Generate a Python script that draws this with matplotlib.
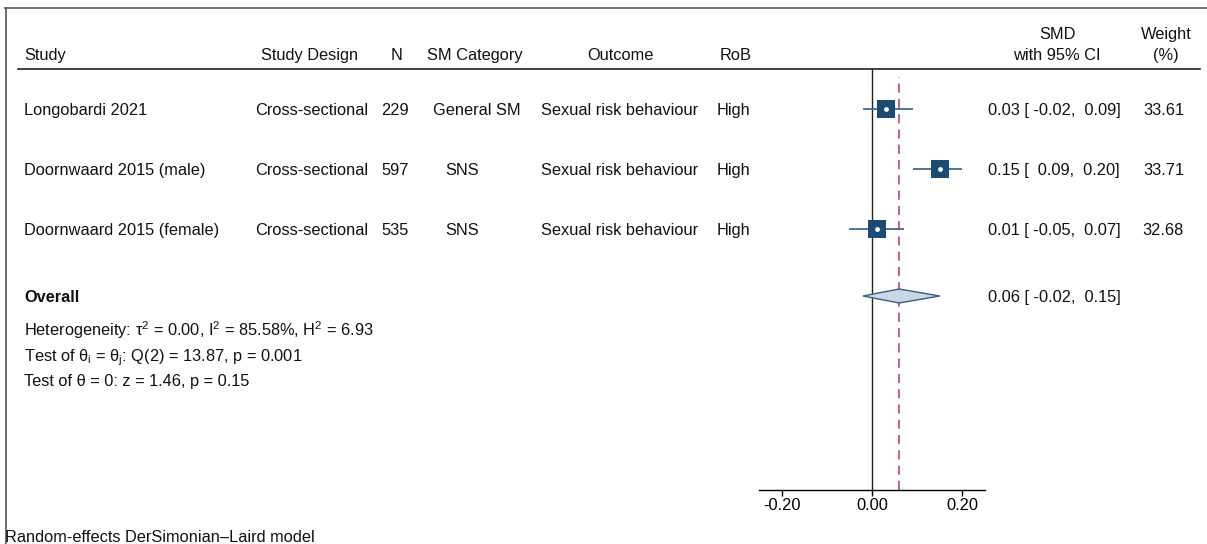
import matplotlib
matplotlib.use("Agg")
import matplotlib.pyplot as plt
from matplotlib.lines import Line2D
from matplotlib.patches import Polygon

plt.rcParams['font.family'] = ['Liberation Sans', 'DejaVu Sans']
plt.rcParams['mathtext.fontset'] = 'custom'
plt.rcParams['mathtext.rm'] = 'Liberation Sans'
plt.rcParams['mathtext.it'] = 'Liberation Sans'

# ---- study data ----
studies = ["Longobardi 2021", "Doornwaard 2015 (male)", "Doornwaard 2015 (female)"]
designs = ["Cross-sectional", "Cross-sectional", "Cross-sectional"]
sample_n = [229, 597, 535]
sm_category = ["General SM", "SNS", "SNS"]
outcomes = ["Sexual risk behaviour"] * 3
rob = ["High", "High", "High"]
smd = [0.03, 0.15, 0.01]
ci_low = [-0.02, 0.09, -0.05]
ci_high = [0.09, 0.20, 0.07]
weights = [33.61, 33.71, 32.68]

overall_smd = 0.06
overall_low = -0.02
overall_high = 0.15

het_text = r"Heterogeneity: τ$^\mathregular{2}$ = 0.00, I$^\mathregular{2}$ = 85.58%, H$^\mathregular{2}$ = 6.93"
q_text = r"Test of θ$_\mathregular{i}$ = θ$_\mathregular{j}$: Q(2) = 13.87, p = 0.001"
z_text = "Test of θ = 0: z = 1.46, p = 0.15"
footer = "Random-effects DerSimonian–Laird model"

x_ticks = [-0.20, 0.00, 0.20]

# ---- layout (pixel space) ----
W, H = 1207, 544
fig = plt.figure(figsize=(W / 100, H / 100), dpi=100)

def fx(x):
    return x / W

def fy(y):
    return 1 - y / H

FS = 11.8
row_y = [109, 169, 229]
overall_y = 296

ax_left, ax_right, ax_top, ax_bot = 759, 985, 69, 490
ax = fig.add_axes([fx(ax_left), fy(ax_bot), (ax_right - ax_left) / W, (ax_bot - ax_top) / H])
ax.set_xlim(-0.25, 0.25)
ax.set_ylim(ax_bot, ax_top)
for s in ["top", "right", "left"]:
    ax.spines[s].set_visible(False)
ax.spines["bottom"].set_linewidth(1.0)
ax.set_yticks([])
ax.set_xticks(x_ticks)
ax.set_xticklabels([f"{t:.2f}" for t in x_ticks], fontsize=FS)
ax.tick_params(axis="x", length=4, width=1.0, pad=2)
ax.patch.set_alpha(0)

# reference lines
ax.axvline(0, color="#222222", lw=1.0, zorder=1)
ax.axvline(overall_smd, color="#b03a5e", lw=1.1, ls=(0, (6, 4)), ymax=0.98, zorder=1)

navy = "#1b4a72"
ci_col = "#3f6b92"
for y, m, lo, hi, w in zip(row_y, smd, ci_low, ci_high, weights):
    ax.plot([lo, hi], [y, y], color=ci_col, lw=1.3, zorder=2, solid_capstyle="butt")
    ax.scatter([m], [y], marker="s", s=180 * w / 33.71, color=navy, zorder=3, linewidths=0)
    ax.scatter([m], [y], marker="o", s=12, color="white", zorder=4, linewidths=0)

dh = 7
diamond = Polygon([[overall_low, overall_y], [overall_smd, overall_y - dh],
                   [overall_high, overall_y], [overall_smd, overall_y + dh]],
                  closed=True, facecolor="#ccd7e5", edgecolor="#3a5f85", lw=1.0, zorder=3)
ax.add_patch(diamond)

# ---- frame and header rule ----
frame_col = "#555555"
fig.add_artist(Line2D([fx(5), fx(W)], [fy(8), fy(8)], color=frame_col, lw=1.2))
fig.add_artist(Line2D([fx(5.5), fx(5.5)], [fy(8), fy(H)], color=frame_col, lw=1.2))
fig.add_artist(Line2D([fx(18), fx(1200)], [fy(69), fy(69)], color="#222222", lw=1.2))

# ---- text helper: y is the vertical centre of capital letters ----
def t(x, y, s, ha="left", **kw):
    fig.text(fx(x), fy(y + 6), s, ha=ha, va="baseline", fontsize=FS, color="#111111", **kw)

t(24, 54, "Study")
t(310, 54, "Study Design", ha="center")
t(397, 54, "N", ha="center")
t(475, 54, "SM Category", ha="center")
t(620, 54, "Outcome", ha="center")
t(720, 54, "RoB")
t(1057, 33, "SMD", ha="center")
t(1057, 54, "with 95% CI", ha="center")
t(1166, 33, "Weight", ha="center")
t(1166, 54, "(%)", ha="center")

# ---- study rows ----
sm_x = {"General SM": 433, "SNS": 445}
for y, st, d, n, c, o, r, m, lo, hi, w in zip(row_y, studies, designs, sample_n, sm_category,
                                             outcomes, rob, smd, ci_low, ci_high, weights):
    t(24, y, st)
    t(312, y, d, ha="center")
    t(395, y, str(n), ha="center")
    t(sm_x[c], y, c)
    t(620, y, o, ha="center")
    t(717, y, r)
    t(988, y, f"{m:.2f} [{' ' if lo < 0 else '  '}{lo:.2f},  {hi:.2f}]")
    t(1184, y, f"{w:.2f}", ha="right")

t(24, overall_y, "Overall", fontweight="bold")
t(988, overall_y, f"{overall_smd:.2f} [ {overall_low:.2f},  {overall_high:.2f}]")
t(24, 330, het_text)
t(24, 355, q_text)
t(24, 380, z_text)
t(5, 536, footer)

fig.savefig("out.png", dpi=100)
